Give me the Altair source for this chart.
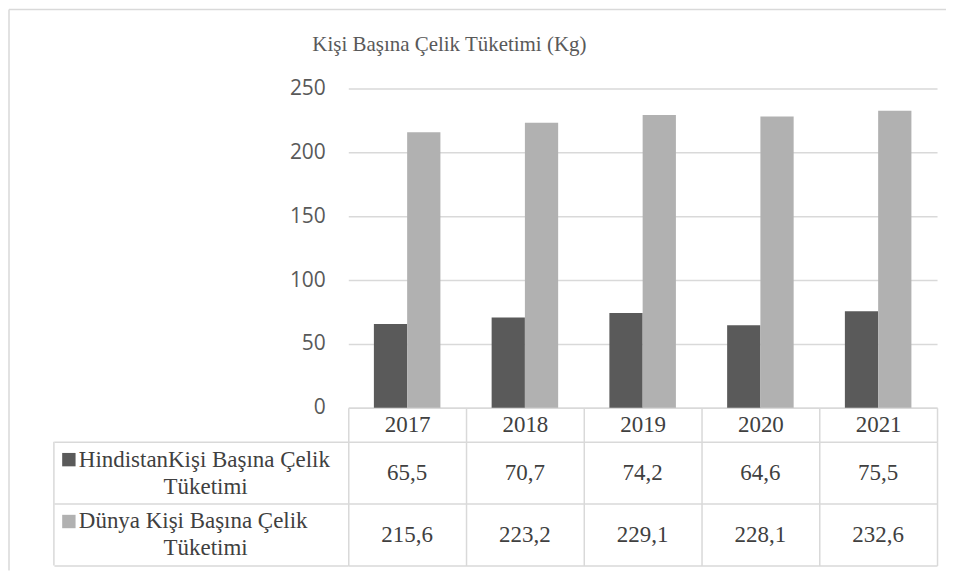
import altair as alt
import pandas as pd

# ---- data ----
years = ["2017", "2018", "2019", "2020", "2021"]
india = [65.5, 70.7, 74.2, 64.6, 75.5]
world = [215.6, 223.2, 229.1, 228.1, 232.6]
series_keys = ["Hindistan", "Dünya"]
series_line1 = ["HindistanKişi Başına Çelik", "Dünya Kişi Başına Çelik"]
series_line2 = ["Tüketimi", "Tüketimi"]
series_colors = ["#5a5a5a", "#b1b1b1"]
chart_title = "Kişi Başına Çelik Tüketimi (Kg)"
y_ticks = [0, 50, 100, 150, 200, 250]

rows = []
for key, vals in zip(series_keys, [india, world]):
    for yr, v in zip(years, vals):
        rows.append({"year": yr, "series": key, "value": v,
                     "label": f"{v:.1f}".replace(".", ",")})
df = pd.DataFrame(rows)
hdr = pd.DataFrame({"series": series_keys, "line1": series_line1, "line2": series_line2})
one = pd.DataFrame({"a": [0]})

W, H, TH = 590, 320, 124
GRID = "#d9d9d9"
SERIF = "Liberation Serif"
TXT = "#404040"

color = alt.Color("series:N", scale=alt.Scale(domain=series_keys, range=series_colors), legend=None)

bars = alt.Chart(df).mark_bar().encode(
    x=alt.X("year:N", sort=years,
            scale=alt.Scale(paddingInner=0, paddingOuter=0),
            axis=alt.Axis(title=None, labelAngle=0, grid=False,
                          domainColor=GRID, domainWidth=1.5,
                          tickColor=GRID, tickWidth=1.5, tickSize=34, tickBand="extent",
                          labelFont=SERIF, labelFontSize=23, labelColor=TXT,
                          labelBaseline="alphabetic", labelPadding=-10)),
    xOffset=alt.XOffset("series:N", sort=series_keys,
                        scale=alt.Scale(paddingInner=0, paddingOuter=0.77)),
    y=alt.Y("value:Q", scale=alt.Scale(domain=[0, 250], nice=False),
            axis=alt.Axis(title=None, values=y_ticks, domain=False, ticks=False,
                          gridColor=GRID, gridWidth=1.5,
                          labelFont="Open Sans", labelFontSize=21, labelColor="#595959",
                          labelPadding=23)),
    color=color,
).properties(
    width=W, height=H,
    title=alt.TitleParams(chart_title, anchor="start", frame="group", dx=-36, offset=6,
                          baseline="alphabetic", font=SERIF, fontSize=21,
                          fontWeight="normal", color="#595959"),
)

ycat = alt.Y("series:N", sort=series_keys, scale=alt.Scale(paddingInner=0, paddingOuter=0),
             axis=alt.Axis(title=None, labels=False, domain=False,
                           ticks=True, tickSize=295, tickColor=GRID, tickWidth=1.5,
                           tickBand="extent", grid=True, gridColor=GRID, gridWidth=1.5))
xcat = alt.X("year:N", sort=years, scale=alt.Scale(paddingInner=0, paddingOuter=0),
             axis=alt.Axis(title=None, labels=False, ticks=False, domain=False,
                           grid=True, gridColor=GRID, gridWidth=1.5, tickBand="extent"))

values = alt.Chart(df).mark_text(font=SERIF, fontSize=23, color=TXT,
                                 baseline="alphabetic", dy=7.5).encode(
    x=xcat, y=ycat, text=alt.Text("label:N"))

keys = alt.Chart(hdr).mark_square(size=180, opacity=1, filled=True, yOffset=-13).encode(
    x=alt.value(-280), y=alt.Y("series:N", sort=series_keys), color=color)

line1 = alt.Chart(hdr).mark_text(font=SERIF, fontSize=23, color=TXT, align="left",
                                 baseline="alphabetic", dy=-6).encode(
    x=alt.value(-270), y=alt.Y("series:N", sort=series_keys), text="line1:N")

line2 = alt.Chart(hdr).mark_text(font=SERIF, fontSize=23, color=TXT, align="center",
                                 baseline="alphabetic", dy=21).encode(
    x=alt.value(-143), y=alt.Y("series:N", sort=series_keys), text="line2:N")

table_left = alt.Chart(one).mark_rule(color=GRID, strokeWidth=1.5).encode(
    x=alt.value(-295), y=alt.value(0), y2=alt.value(TH))

frame_top = alt.Chart(one).mark_rule(color=GRID, strokeWidth=1.5).encode(
    x=alt.value(-340), x2=alt.value(599), y=alt.value(-433))
frame_left = alt.Chart(one).mark_rule(color=GRID, strokeWidth=1.5).encode(
    x=alt.value(-340), y=alt.value(-433), y2=alt.value(129))

table = alt.layer(values, keys, line1, line2, table_left, frame_top, frame_left).properties(
    width=W, height=TH)

chart = alt.vconcat(bars, table, spacing=34, bounds="flush").properties(
    padding=0
).configure_view(stroke=None)

chart.save("out.html", embed_options={"renderer": "svg", "actions": False})
